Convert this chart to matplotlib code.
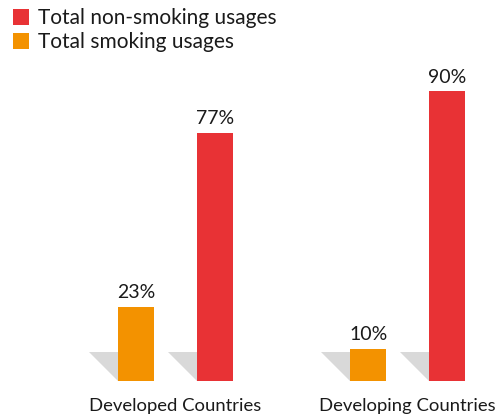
import matplotlib
matplotlib.use("Agg")
import matplotlib.pyplot as plt
from matplotlib.patches import Polygon, Patch
import numpy as np

plt.rcParams["font.family"] = ["Lato", "DejaVu Sans"]

categories = ["Developed Countries", "Developing Countries"]
smoking = [23, 10]
non_smoking = [77, 90]
labels = ["Total non-smoking usages", "Total smoking usages"]

RED = "#E83235"
ORANGE = "#F39200"
SHADOW = "#D9D9D9"
TXT = "#1a1a1a"

fig = plt.figure(figsize=(4.99, 4.17), dpi=100)
ax = fig.add_axes([0, 36 / 417, 1, 322 / 417])
ax.set_xlim(-0.7565, 1.394)
ax.set_ylim(0, 100)
ax.axis("off")

x = np.arange(len(categories))
off = 0.170
w = 0.155
sh_w, sh_h = 0.125, 9.0

for xs, vals, col in [(x - off, smoking, ORANGE), (x + off, non_smoking, RED)]:
    for xi in xs:
        left = xi - w / 2
        ax.add_patch(Polygon([(left - sh_w, sh_h), (left, sh_h), (left, 0)],
                             closed=True, facecolor=SHADOW, edgecolor="none", zorder=1))
    ax.bar(xs, vals, width=w, color=col, zorder=2)
    for xi, v in zip(xs, vals):
        ax.text(xi, v + 2.7, f"{v}%", ha="center", va="baseline", fontsize=14, color=TXT)

for xi, c in zip(x, categories):
    ax.text(xi, -9.2, c, ha="center", va="baseline", fontsize=13.3, color=TXT, clip_on=False)

handles = [Patch(facecolor=RED, edgecolor="none"), Patch(facecolor=ORANGE, edgecolor="none")]
fig.legend(handles, labels, loc="upper left", bbox_to_anchor=(0.0, 1.01),
           frameon=False, fontsize=15, handlelength=0.78, handleheight=0.78,
           handletextpad=0.42, labelspacing=0.2, borderaxespad=0.2, labelcolor=TXT)

fig.savefig("out.png", dpi=100)
